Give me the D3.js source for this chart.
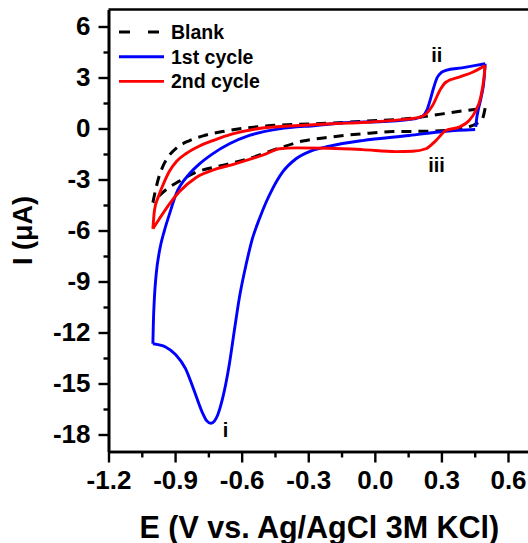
<!DOCTYPE html>
<html>
<head>
<meta charset="utf-8">
<script src="https://cdn.jsdelivr.net/npm/d3@7"></script>
<style>
  html, body { margin: 0; padding: 0; background: #fff; }
  svg { display: block; font-family: "Liberation Sans", Arial, sans-serif; font-weight: bold; }
</style>
</head>
<body>
<svg id="chart" width="528" height="543"></svg>
<script>
// Cyclic voltammograms: potential E (V vs. Ag/AgCl) and current I (µA)
const blank = [
  [-1.000, -4.35], [-0.988, -3.62], [-0.975, -2.94], [-0.957, -2.29], [-0.930, -1.65],
  [-0.894, -1.15], [-0.835, -0.71], [-0.768, -0.41], [-0.686, -0.18], [-0.490, 0.15],
  [-0.265, 0.28], [-0.040, 0.43], [0.185, 0.63], [0.305, 0.86], [0.410, 1.06], [0.497, 1.20],
  [0.485, 0.57], [0.470, 0.37], [0.380, -0.02], [0.245, -0.16], [0.080, -0.18],
  [-0.056, -0.31], [-0.205, -0.51], [-0.325, -0.74], [-0.430, -1.15], [-0.580, -1.82],
  [-0.700, -2.21], [-0.805, -2.57], [-0.880, -3.09], [-0.934, -3.53], [-0.970, -3.94],
  [-1.000, -4.35]
];

const cycle1 = [
  [0.452, -0.06], [0.320, -0.16], [0.155, -0.41], [-0.056, -0.71], [-0.205, -1.04],
  [-0.281, -1.29], [-0.355, -1.78], [-0.416, -2.57], [-0.461, -3.55], [-0.490, -4.34],
  [-0.520, -5.31], [-0.551, -6.45], [-0.580, -8.00], [-0.610, -9.92], [-0.633, -11.88],
  [-0.655, -13.82], [-0.686, -15.88], [-0.708, -16.85], [-0.723, -17.21], [-0.738, -17.34],
  [-0.758, -17.18], [-0.779, -16.65], [-0.816, -15.35], [-0.853, -14.12], [-0.898, -13.29],
  [-0.943, -12.85], [-1.000, -12.66],
  [-0.998, -11.50], [-0.993, -9.92], [-0.985, -8.55], [-0.970, -7.18], [-0.948, -6.00],
  [-0.925, -5.02], [-0.895, -3.84], [-0.835, -2.66], [-0.790, -2.08], [-0.731, -1.49],
  [-0.655, -0.90], [-0.565, -0.41], [-0.430, -0.02], [-0.265, 0.18], [-0.115, 0.35],
  [0.035, 0.41], [0.185, 0.59], [0.215, 0.72], [0.235, 1.10], [0.250, 1.70],
  [0.265, 2.40], [0.281, 3.00], [0.300, 3.30], [0.320, 3.42], [0.393, 3.57],
  [0.455, 3.71], [0.497, 3.81],
  [0.493, 3.00], [0.480, 1.90], [0.466, 1.10], [0.458, 0.50], [0.455, 0.10]
];

const cycle2 = [
  [0.497, 3.71], [0.492, 3.02], [0.477, 1.84], [0.455, 1.06], [0.425, 0.47],
  [0.380, 0.08], [0.320, -0.12], [0.275, -0.71], [0.230, -1.19], [0.170, -1.34],
  [0.095, -1.36], [-0.056, -1.24], [-0.205, -1.16], [-0.355, -1.14], [-0.430, -1.19],
  [-0.490, -1.49], [-0.565, -1.82], [-0.641, -2.12], [-0.715, -2.38], [-0.805, -2.88],
  [-0.880, -3.71], [-0.925, -4.43], [-0.970, -5.29], [-1.000, -5.90],
  [-0.993, -4.82], [-0.975, -4.00], [-0.952, -3.24], [-0.925, -2.50], [-0.894, -1.94],
  [-0.850, -1.47], [-0.790, -1.03], [-0.723, -0.68], [-0.641, -0.32], [-0.507, 0.03],
  [-0.340, 0.18], [-0.191, 0.28], [-0.040, 0.37], [0.110, 0.51], [0.200, 0.66],
  [0.230, 0.85], [0.260, 1.35], [0.297, 2.34], [0.320, 2.72], [0.380, 3.02],
  [0.440, 3.31], [0.497, 3.71]
];

const seriesNames = ["Blank", "1st cycle", "2nd cycle"];
const seriesColors = ["#000000", "#0000ff", "#ff0000"];

const xTicks = [-1.2, -0.9, -0.6, -0.3, 0.0, 0.3, 0.6];
const xMinorTicks = [-1.05, -0.75, -0.45, -0.15, 0.15, 0.45];
const yTicks = [6, 3, 0, -3, -6, -9, -12, -15, -18];
const yMinorTicks = [4.5, 1.5, -1.5, -4.5, -7.5, -10.5, -13.5, -16.5];

// peak labels anchored in data coordinates
const peakLabels = [
  { text: "i", E: -0.673, I: -18.13 },
  { text: "ii", E: 0.279, I: 3.93 },
  { text: "iii", E: 0.278, I: -2.54 }
];

const svg = d3.select("#chart");
const x = d3.scaleLinear().domain([-1.2, 0.7]).range([108.5, 530.2]);
const y = d3.scaleLinear().domain([-19, 7]).range([451.5, 9.5]);

// split a voltammogram into sweeps at every potential reversal
function sweeps(data) {
  const out = [];
  let cur = [data[0]];
  let dir = 0;
  for (let i = 1; i < data.length; i++) {
    const d = Math.sign(data[i][0] - data[i - 1][0]);
    if (dir !== 0 && d !== 0 && d !== dir) {
      out.push(cur);
      cur = [data[i - 1]];
    }
    if (d !== 0) dir = d;
    cur.push(data[i]);
  }
  out.push(cur);
  return out;
}

const line = d3.line()
  .x(d => x(d[0]))
  .y(d => y(d[1]))
  .curve(d3.curveMonotoneX);

function pathFor(data) {
  return sweeps(data).map(s => line(s)).join("");
}

const plot = svg.append("g");
plot.append("path")
  .attr("d", pathFor(blank))
  .attr("fill", "none")
  .attr("stroke", seriesColors[0])
  .attr("stroke-width", 3)
  .attr("stroke-dasharray", "10,7");
plot.append("path")
  .attr("d", pathFor(cycle1))
  .attr("fill", "none")
  .attr("stroke", seriesColors[1])
  .attr("stroke-width", 2.9)
  .attr("stroke-linejoin", "round");
plot.append("path")
  .attr("d", pathFor(cycle2))
  .attr("fill", "none")
  .attr("stroke", seriesColors[2])
  .attr("stroke-width", 2.9)
  .attr("stroke-linejoin", "round");

// axes
const tickFont = 26;
svg.append("g").attr("transform", `translate(0,${y(-19)})`)
  .call(d3.axisBottom(x).tickValues(xTicks).tickSize(11).tickSizeOuter(0).tickPadding(8)
    .tickFormat(d => d.toFixed(1)));
svg.append("g").attr("transform", `translate(0,${y(-19)})`)
  .call(d3.axisBottom(x).tickValues(xMinorTicks).tickSize(6).tickSizeOuter(0).tickFormat(""));
svg.append("g").attr("transform", `translate(${x(-1.2)},0)`)
  .call(d3.axisLeft(y).tickValues(yTicks).tickSize(10).tickSizeOuter(0).tickPadding(8)
    .tickFormat(d => String(d)));
svg.append("g").attr("transform", `translate(${x(-1.2)},0)`)
  .call(d3.axisLeft(y).tickValues(yMinorTicks).tickSize(5).tickSizeOuter(0).tickFormat(""));

svg.selectAll(".domain").attr("stroke", "#000").attr("stroke-width", 2.6);
svg.selectAll(".tick line").attr("stroke", "#000").attr("stroke-width", 2.4);
svg.selectAll(".tick text")
  .attr("fill", "#000")
  .attr("font-family", "'Liberation Sans', Arial, sans-serif")
  .attr("font-weight", "bold")
  .attr("font-size", tickFont);

// top and right frame edges
svg.append("path")
  .attr("d", `M${x(-1.2)},${y(7)}H${x(0.7)}V${y(-19)}`)
  .attr("fill", "none")
  .attr("stroke", "#000")
  .attr("stroke-width", 2.6);

// axis titles
svg.append("text")
  .attr("x", (x(-1.2) + x(0.7)) / 2)
  .attr("y", 538)
  .attr("text-anchor", "middle")
  .attr("font-size", 30.5)
  .text("E (V vs. Ag/AgCl 3M KCl)");
svg.append("text")
  .attr("transform", `translate(32,${(y(7) + y(-19)) / 2}) rotate(-90)`)
  .attr("text-anchor", "middle")
  .attr("font-size", 27)
  .text("I (μA)");

// peak labels
svg.append("g").selectAll("text").data(peakLabels).join("text")
  .attr("x", d => x(d.E))
  .attr("y", d => y(d.I))
  .attr("text-anchor", "middle")
  .attr("font-size", 20)
  .text(d => d.text);

// legend
const legend = svg.append("g").attr("transform", "translate(119,32)");
const rows = legend.selectAll("g").data(seriesNames).join("g")
  .attr("transform", (d, i) => `translate(0,${i * 24.7})`);
rows.append("line")
  .attr("x1", 0).attr("x2", 45).attr("y1", 0).attr("y2", 0)
  .attr("stroke", (d, i) => seriesColors[i])
  .attr("stroke-width", (d, i) => i === 0 ? 3 : 2.9)
  .attr("stroke-dasharray", (d, i) => i === 0 ? "11,18" : null);
rows.append("text")
  .attr("x", 52)
  .attr("y", 7)
  .attr("font-size", 19.5)
  .text(d => d);
</script>
</body>
</html>
